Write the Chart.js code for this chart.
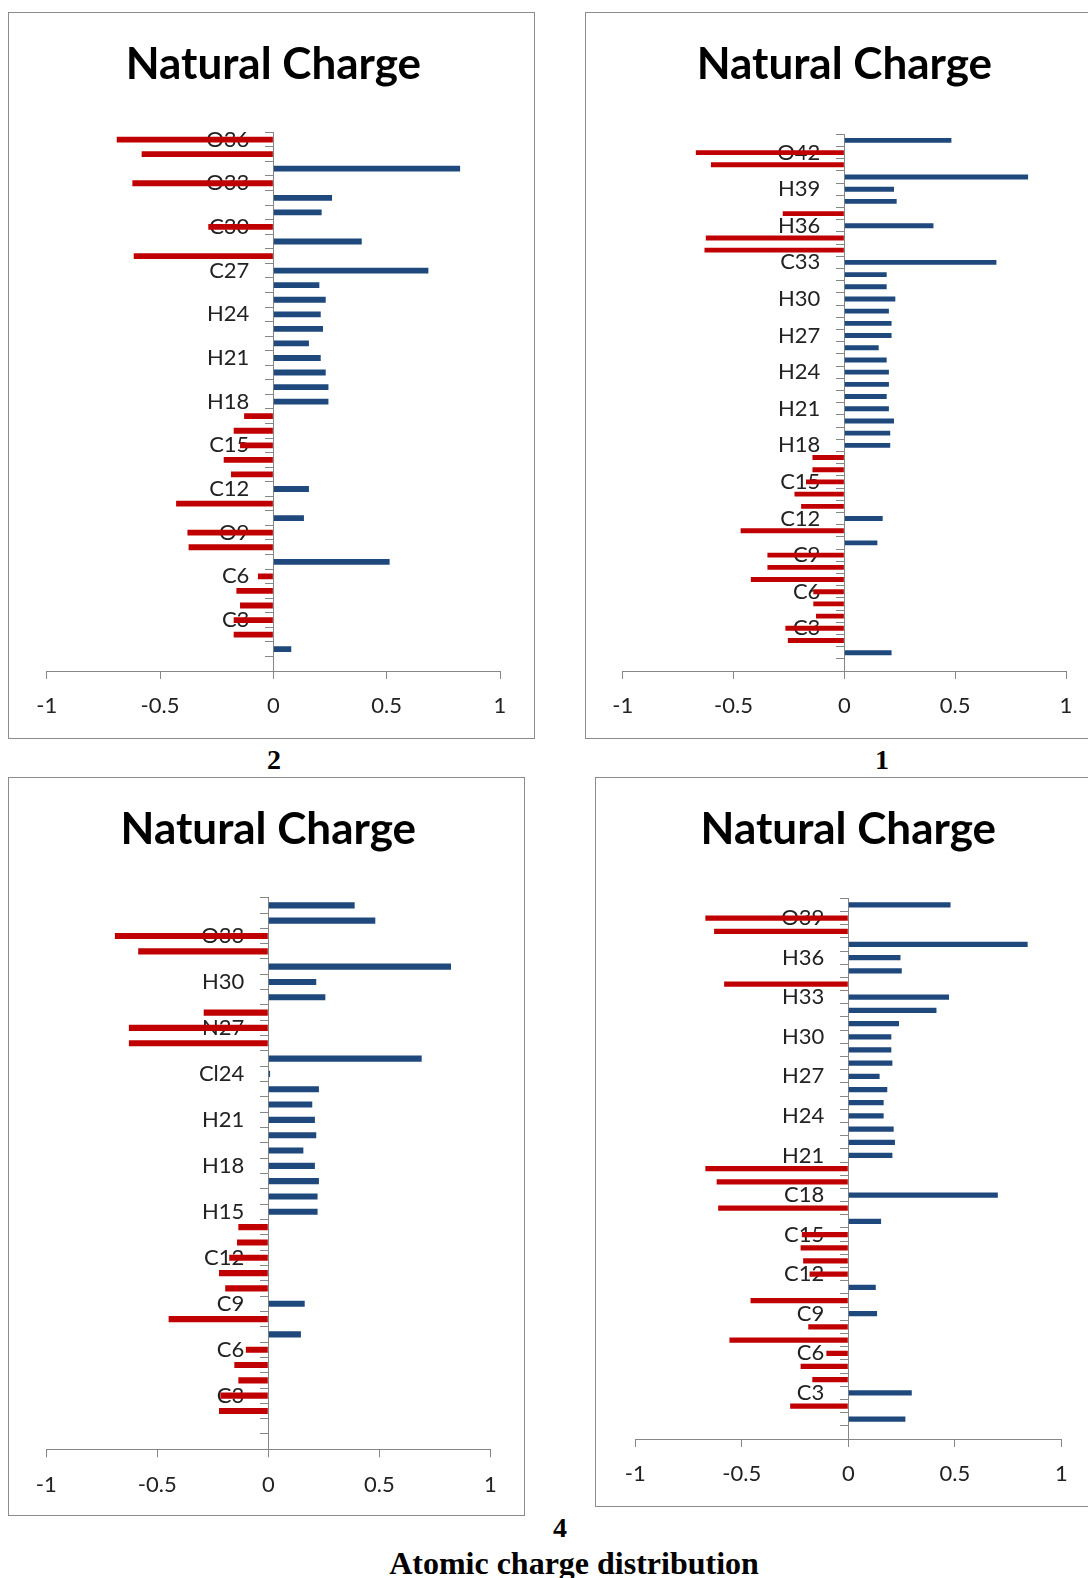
<!DOCTYPE html>
<html lang="en">
<head>
<meta charset="UTF-8">
<title>Natural Charge</title>
<script src="https://cdn.jsdelivr.net/npm/chart.js"></script>
<style>
  html, body { margin: 0; padding: 0; background: #fff; }
  body { width: 1088px; height: 1578px; position: relative; overflow: hidden; }
  canvas { position: absolute; outline: 1px solid #8c8c8c; }
  .cap { position: absolute; font-family: "Liberation Serif", "Times New Roman", serif; font-weight: bold;
         font-size: 28px; line-height: 28px; transform: translate(-50%, -50%); white-space: nowrap; color: #000; }
</style>
</head>
<body>
<canvas id="c2"></canvas>
<canvas id="c1"></canvas>
<canvas id="c3"></canvas>
<canvas id="c4"></canvas>
<div class="cap" style="left:274px;top:760px">2</div>
<div class="cap" style="left:882px;top:760px">1</div>
<div class="cap" style="left:560px;top:1528px">4</div>
<div class="cap" style="left:574px;top:1563px;font-size:32px;line-height:32px">Atomic charge distribution</div>
<script>
// natural charges, atom 1 first (bottom of each chart)
var charge2 = [0.079, -0.175, -0.175, -0.147, -0.163, -0.068, 0.513, -0.374, -0.379, 0.135,
               -0.429, 0.157, -0.187, -0.219, -0.147, -0.175, -0.129, 0.243, 0.243, 0.231,
               0.209, 0.157, 0.219, 0.209, 0.231, 0.203, 0.684, -0.616, 0.390, -0.287,
               0.213, 0.259, -0.622, 0.824, -0.581, -0.691];
var labels2 = ['C3', 'C6', 'O9', 'C12', 'C15', 'H18', 'H21', 'H24', 'C27', 'C30', 'O33', 'O36'];

var charge1 = [0.213, -0.255, -0.266, -0.128, -0.140, -0.140, -0.422, -0.347, -0.347, 0.149,
               -0.468, 0.173, -0.195, -0.225, -0.173, -0.144, -0.144, 0.207, 0.207, 0.224,
               0.201, 0.191, 0.201, 0.201, 0.191, 0.155, 0.213, 0.213, 0.201, 0.230,
               0.191, 0.191, 0.686, -0.631, -0.625, 0.402, -0.278, 0.236, 0.224, 0.829,
               -0.602, -0.670, 0.483];
var labels1 = ['C3', 'C6', 'C9', 'C12', 'C15', 'H18', 'H21', 'H24', 'H27', 'H30', 'C33', 'H36', 'H39', 'O42'];

var charge3 = [null, -0.222, -0.216, -0.135, -0.153, -0.101, 0.147, -0.449, 0.164, -0.194,
               -0.222, -0.176, -0.141, -0.135, 0.222, 0.222, 0.228, 0.210, 0.158, 0.216,
               0.210, 0.198, 0.228, 0.008, 0.691, -0.628, -0.628, -0.291, 0.257, 0.216,
               0.823, -0.586, -0.691, 0.482, 0.389];
var labels3 = ['C3', 'C6', 'C9', 'C12', 'H15', 'H18', 'H21', 'Cl24', 'N27', 'H30', 'O33'];

var charge4 = [0.268, -0.273, 0.298, -0.169, -0.224, -0.103, -0.558, -0.188, 0.135, -0.459,
               0.129, -0.182, -0.212, -0.224, -0.218, 0.154, -0.611, 0.702, -0.618, -0.671,
               0.207, 0.219, 0.213, 0.166, 0.166, 0.183, 0.147, 0.207, 0.202, 0.202,
               0.238, 0.414, 0.473, -0.583, 0.251, 0.245, 0.842, -0.630, -0.671, 0.480];
var labels4 = ['C3', 'C6', 'C9', 'C12', 'C15', 'C18', 'H21', 'H24', 'H27', 'H30', 'H33', 'H36', 'O39'];

var RED = '#c00000', BLUE = '#1f497d', AXIS = '#868686';

// empty slot at the bottom, then every third atom gets its name
function atomLabels(shown, n) {
  var out = [''];
  for (var i = 1; i <= n; i++) out.push(i % 3 === 0 ? shown[i / 3 - 1] : '');
  return out;
}

function makeChart(id, charges, shown, box, area, titleY) {
  var canvas = document.getElementById(id);
  var left = box[0] + 1, top = box[1] + 1, w = box[2] - 2, h = box[3] - 2;
  canvas.style.left = left + 'px';
  canvas.style.top = top + 'px';
  canvas.width = w;
  canvas.height = h;

  var titleSize = 44, titleLH = titleSize * 1.2;
  var tTop = titleY - top - titleLH / 2;
  var tBottom = area[1] - top - tTop - titleLH;
  var axisH = 8 + 14 * 2 + 22 * 1.2;
  // atom names sit 24px left of the zero line
  var labelX = -24 / ((area[2] - area[0]) / 2);

  new Chart(canvas, {
    type: 'bar',
    data: {
      labels: atomLabels(shown, charges.length),
      datasets: [{
        data: [null].concat(charges),
        backgroundColor: function(c) { return c.raw < 0 ? RED : BLUE; },
        barPercentage: 0.4,
        categoryPercentage: 1
      }]
    },
    options: {
      indexAxis: 'y',
      responsive: false,
      animation: false,
      layout: {
        padding: { left: area[0] - left, right: left + w - area[2], top: 0, bottom: top + h - area[3] - axisH }
      },
      plugins: {
        legend: { display: false },
        tooltip: { enabled: false },
        title: {
          display: true,
          text: 'Natural Charge',
          color: '#000',
          font: { family: 'Lato', weight: 'bold', size: titleSize, lineHeight: 1.2 },
          padding: { top: tTop, bottom: tBottom }
        }
      },
      scales: {
        x: {
          type: 'linear', min: -1, max: 1,
          ticks: {
            stepSize: 0.5, padding: 14, color: '#222', font: { family: 'Lato', size: 22 },
            callback: function(v) { return String(Math.round(v * 10) / 10); }
          },
          grid: { drawOnChartArea: false, tickLength: 8, color: AXIS },
          border: { color: AXIS }
        },
        y: {
          type: 'category', axis: 'y', reverse: true, offset: true, position: { x: 0 },
          ticks: { display: false, autoSkip: false },
          grid: { offset: true, drawOnChartArea: false, tickLength: 8, color: AXIS },
          border: { color: AXIS }
        },
        yNames: {
          type: 'category', axis: 'y', reverse: true, offset: true, position: { x: labelX }, z: 1,
          ticks: { autoSkip: false, padding: 0, color: '#222', font: { family: 'Lato', size: 22 } },
          grid: { display: false },
          border: { display: false }
        }
      }
    }
  });
}

makeChart('c2', charge2, labels2, [8, 12, 527, 727], [46.7, 132.3, 500, 671], 64.5);
makeChart('c1', charge1, labels1, [585, 12, 520, 727], [622.7, 134.3, 1066, 671], 64.5);
makeChart('c3', charge3, labels3, [8, 777, 517, 739], [46.3, 897.7, 490.3, 1449.3], 829.5);
makeChart('c4', charge4, labels4, [595, 777, 510, 730], [635.3, 898.3, 1061.3, 1439], 829.5);
</script>
</body>
</html>
